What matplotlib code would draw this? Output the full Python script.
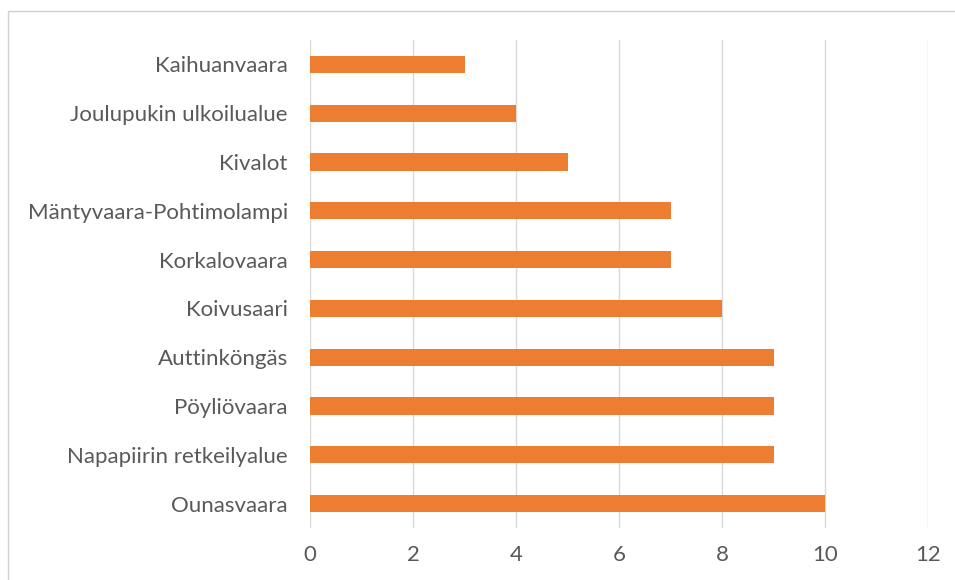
import matplotlib
matplotlib.use("Agg")
import matplotlib.pyplot as plt
from matplotlib.patches import Rectangle

categories = ["Ounasvaara", "Napapiirin retkeilyalue", "Pöyliövaara", "Auttinköngäs",
              "Koivusaari", "Korkalovaara", "Mäntyvaara-Pohtimolampi", "Kivalot",
              "Joulupukin ulkoilualue", "Kaihuanvaara"]
values = [10, 9, 9, 9, 8, 7, 7, 5, 4, 3]
xticks = [0, 2, 4, 6, 8, 10, 12]

plt.rcParams['font.family'] = ['Lato', 'DejaVu Sans']
W, H = 955, 580
fig = plt.figure(figsize=(W/100, H/100), dpi=100)
fig.patch.set_facecolor('white')

# outer chart border
fig.add_artist(Rectangle((8/W, -0.01), 1.1, (H-11)/H + 0.01, transform=fig.transFigure,
                         fill=False, edgecolor='#d0d0d0', linewidth=1))

ax = fig.add_axes([310/W, 1-528/H, (928-310)/W, (528-40)/H])
ypos = list(range(len(categories)))
ax.barh(ypos, values, height=0.35, color='#ED7D31', zorder=3)
ax.set_ylim(-0.5, len(categories)-0.5)
ax.set_xlim(0, 12)
ax.set_xticks(xticks)
ax.set_xticklabels([str(t) for t in xticks])
ax.set_yticks(ypos)
ax.set_yticklabels(categories)
ax.grid(axis='x', color='#d9d9d9', linewidth=1, zorder=0)
for s in ax.spines.values():
    s.set_visible(False)
ax.tick_params(axis='both', length=0, colors='#595959', labelsize=16)
ax.tick_params(axis='y', pad=16)
ax.tick_params(axis='x', pad=12)
fig.savefig("out.png", dpi=100)
